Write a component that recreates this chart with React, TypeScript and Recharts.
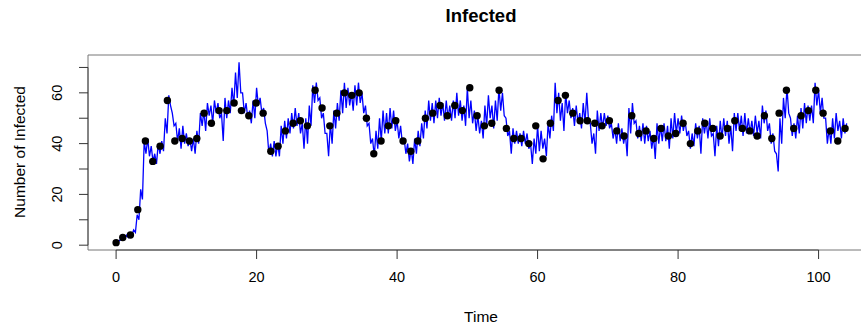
import React from "react"
import { ComposedChart, Line, Scatter, XAxis, YAxis, ReferenceLine } from "recharts"

// blue simulated trace, read every 0.5 time units: upper and lower edge of the noisy band
const traceHigh = [
  1, 2, 3, 4, 4, 6, 12, 22, 41, 42,
  39, 36, 40, 41, 50, 59, 52, 48, 46, 47,
  44, 42, 42, 45, 52, 53, 56, 55, 57, 56,
  52, 58, 57, 62, 68, 72, 60, 56, 53, 57,
  62, 58, 54, 45, 40, 41, 40, 47, 49, 50,
  52, 54, 52, 48, 50, 55, 63, 64, 58, 52,
  44, 48, 53, 56, 61, 64, 62, 60, 63, 64,
  60, 55, 48, 42, 45, 50, 53, 52, 54, 53,
  49, 47, 42, 40, 38, 42, 45, 48, 53, 57,
  56, 57, 58, 56, 57, 55, 57, 60, 57, 55,
  62, 57, 53, 51, 49, 55, 59, 55, 57, 62,
  60, 50, 45, 46, 45, 44, 45, 44, 40, 42,
  47, 45, 42, 48, 51, 64, 60, 56, 60, 57,
  54, 55, 52, 56, 60, 48, 44, 53, 52, 52,
  51, 48, 46, 48, 46, 44, 54, 56, 49, 47,
  48, 47, 45, 43, 48, 47, 48, 47, 50, 52,
  50, 51, 49, 45, 44, 48, 47, 50, 49, 50,
  44, 47, 49, 50, 49, 47, 52, 52, 51, 52,
  50, 49, 51, 49, 55, 53, 48, 44, 36, 50,
  58, 62, 50, 48, 51, 54, 56, 55, 55, 64,
  61, 58, 50, 46, 50, 52, 49, 50, 48,
]

const traceLow = [
  1, 2, 3, 3, 4, 5, 10, 18, 36, 35,
  33, 32, 36, 37, 44, 55, 47, 41, 38, 40,
  39, 37, 36, 40, 47, 45, 51, 48, 52, 50,
  41, 50, 52, 55, 58, 60, 52, 50, 48, 50,
  55, 52, 48, 36, 35, 35, 35, 40, 42, 44,
  46, 47, 44, 38, 40, 47, 56, 57, 50, 44,
  35, 40, 46, 49, 52, 54, 55, 53, 55, 56,
  52, 47, 40, 35, 38, 41, 44, 44, 46, 45,
  42, 40, 36, 33, 32, 36, 39, 42, 46, 49,
  48, 50, 51, 49, 50, 49, 50, 51, 49, 47,
  50, 48, 45, 44, 42, 47, 50, 46, 49, 53,
  51, 43, 36, 40, 40, 39, 40, 38, 32, 36,
  37, 38, 35, 42, 45, 52, 49, 45, 52, 50,
  47, 48, 46, 48, 49, 40, 36, 45, 46, 47,
  46, 42, 40, 41, 40, 35, 44, 48, 42, 41,
  40, 41, 38, 34, 40, 41, 41, 38, 42, 44,
  44, 45, 43, 38, 39, 42, 36, 44, 42, 43,
  35, 39, 42, 43, 40, 37, 45, 45, 43, 44,
  44, 43, 44, 42, 48, 45, 40, 37, 29, 40,
  50, 52, 43, 42, 44, 46, 48, 49, 48, 55,
  52, 50, 40, 40, 42, 45, 42, 44, 45,
]

// observed points (black dots)
const obsTime = [
  0, 0.95, 2.04, 3.09, 4.17, 5.22, 6.26, 7.3, 8.36, 9.4,
  10.43, 11.49, 12.53, 13.57, 14.66, 15.76, 16.8, 17.84, 18.89, 19.93,
  20.93, 22.02, 23.06, 24.1, 25.2, 26.23, 27.23, 28.33, 29.32, 30.42,
  31.42, 32.5, 33.55, 34.59, 35.63, 36.68, 37.72, 38.76, 39.81, 40.85,
  41.95, 42.95, 44.03, 45.08, 46.12, 47.16, 48.21, 49.3, 50.35, 51.39,
  52.43, 53.48, 54.52, 55.56, 56.61, 57.65, 58.75, 59.74, 60.78, 61.82,
  62.92, 63.96, 65.01, 66.05, 67.09, 68.14, 69.18, 70.22, 71.27, 72.31,
  73.41, 74.41, 75.44, 76.54, 77.58, 78.62, 79.67, 80.71, 81.75, 82.8,
  83.8, 84.94, 85.98, 87.02, 88.07, 89.15, 90.21, 91.25, 92.29, 93.34,
  94.38, 95.42, 96.46, 97.51, 98.55, 99.6, 100.64, 101.68, 102.73, 103.77,
]

const obsValue = [
  1, 3, 4, 14, 41, 33, 39, 57, 41, 42,
  41, 42, 52, 48, 53, 53, 56, 53, 51, 56,
  52, 37, 39, 45, 48, 49, 47, 61, 54, 47,
  52, 60, 59, 60, 50, 36, 41, 47, 49, 41,
  37, 41, 50, 52, 55, 51, 55, 53, 62, 51,
  47, 48, 61, 46, 42, 42, 40, 47, 34, 48,
  57, 59, 52, 49, 49, 48, 47, 49, 45, 43,
  51, 44, 45, 42, 46, 43, 44, 48, 40, 45,
  48, 46, 43, 46, 49, 46, 45, 43, 51, 42,
  52, 61, 46, 51, 53, 61, 52, 45, 41, 46,
]

const xTicks = [0, 20, 40, 60, 80, 100]
const yTicks = [0, 10, 20, 30, 40, 50, 60, 70]
const yLabelled = [0, 20, 40, 60]

const X_DOMAIN: [number, number] = [-4, 108.6]
const Y_DOMAIN: [number, number] = [-1.9, 74.9]

const trace: { t: number; v: number }[] = []
traceHigh.forEach((hi, i) => {
  trace.push({ t: i * 0.5, v: hi })
  if (i < traceHigh.length - 1) trace.push({ t: i * 0.5 + 0.25, v: traceLow[i] })
})

const obs = obsTime.map((t, i) => ({ t, v: obsValue[i] }))

const font = "'Liberation Sans', Arial, Helvetica, sans-serif"

function XTick(props: any) {
  const { x, payload } = props
  return (
    <text x={x} y={282} textAnchor="middle" fontFamily={font} fontSize={14.5} fill="#000">
      {payload.value}
    </text>
  )
}

function YTick(props: any) {
  const { y, payload } = props
  if (!yLabelled.includes(payload.value)) return null
  return (
    <text
      x={62}
      y={y}
      textAnchor="middle"
      transform={`rotate(-90, 62, ${y})`}
      fontFamily={font}
      fontSize={14.5}
      fill="#000"
    >
      {payload.value}
    </text>
  )
}

const Dot = (props: any) => <circle cx={props.cx} cy={props.cy} r={3.7} fill="#000" />

export default function App() {
  return (
    <div
      style={{
        position: "absolute",
        left: 0,
        top: 0,
        width: 861,
        height: 326,
        overflow: "hidden",
        background: "#fff",
      }}
    >
      <ComposedChart width={890} height={326} margin={{ top: 55, right: 11, bottom: 0, left: 0 }}>
        <XAxis
          dataKey="t"
          type="number"
          domain={X_DOMAIN}
          ticks={xTicks}
          tick={<XTick />}
          tickSize={9}
          tickLine={{ stroke: "#333" }}
          axisLine={{ stroke: "#777" }}
          height={76}
          allowDataOverflow
        />
        <YAxis
          type="number"
          domain={Y_DOMAIN}
          ticks={yTicks}
          tick={<YTick />}
          tickSize={9}
          tickLine={{ stroke: "#333" }}
          axisLine={{ stroke: "#777" }}
          width={88}
          allowDataOverflow
        />
        <ReferenceLine y={Y_DOMAIN[1]} stroke="#777" />
        <ReferenceLine
          segment={[
            { x: 0, y: Y_DOMAIN[0] },
            { x: 100, y: Y_DOMAIN[0] },
          ]}
          stroke="#222"
        />
        <ReferenceLine
          segment={[
            { x: X_DOMAIN[0], y: 0 },
            { x: X_DOMAIN[0], y: 70 },
          ]}
          stroke="#222"
        />
        <Line
          data={trace}
          dataKey="v"
          type="linear"
          stroke="#0000ff"
          strokeWidth={1.3}
          dot={false}
          isAnimationActive={false}
        />
        <Scatter data={obs} dataKey="v" shape={Dot} isAnimationActive={false} />
      </ComposedChart>
      <svg
        width={861}
        height={326}
        style={{ position: "absolute", left: 0, top: 0, pointerEvents: "none" }}
        fontFamily={font}
      >
        <text x={481} y={22} textAnchor="middle" fontSize={18.5} fontWeight="bold">
          Infected
        </text>
        <text x={481} y={322} textAnchor="middle" fontSize={15.5}>
          Time
        </text>
        <text
          x={25}
          y={152}
          textAnchor="middle"
          fontSize={15.5}
          transform="rotate(-90, 25, 152)"
        >
          Number of Infected
        </text>
      </svg>
    </div>
  )
}
